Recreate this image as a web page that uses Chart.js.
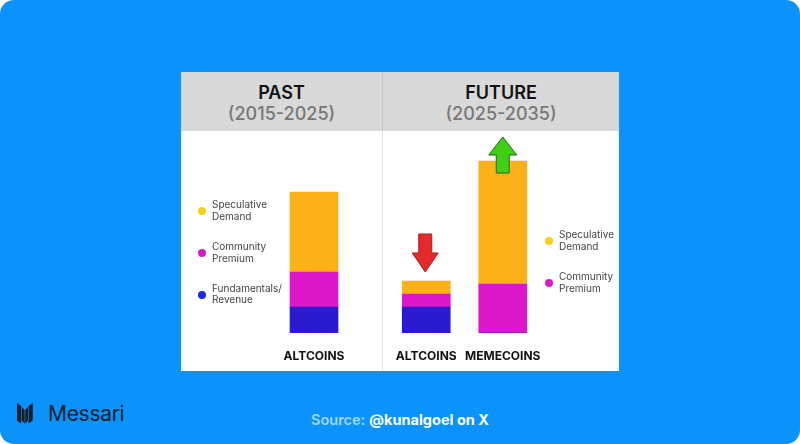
<!DOCTYPE html>
<html>
<head>
<meta charset="utf-8">
<script src="https://cdn.jsdelivr.net/npm/chart.js@4.4.1/dist/chart.umd.min.js"></script>
<style>
  body { margin: 0; background: #fff; font-family: Inter, "Noto Sans", sans-serif; }
  #frame { position: relative; width: 800px; height: 444px; background: #0b93fb; border-radius: 14px; overflow: hidden; }
  #panel { position: absolute; left: 181px; top: 72px; width: 438px; height: 299px; background: #fff; }
  .head { position: absolute; top: 0; height: 59px; background: #d9d9d9; text-align: center;
          padding-top: 10px; box-sizing: border-box; font-size: 18px; line-height: 21px; }
  .head b { color: #111; font-weight: 600; display: block; }
  .head span { color: #777; font-weight: 500; display: block; }
  #divider { position: absolute; left: 201px; top: 0; width: 1px; height: 299px; background: #e2e2e2; }
  #divider2 { position: absolute; left: 201px; top: 0; width: 1px; height: 59px; background: #c8c8c8; }
  .chartbox { position: absolute; top: 131px; }
  .leg { position: absolute; font-size: 10px; line-height: 11.5px; color: #444; }
  .dot { position: absolute; width: 8px; height: 8px; border-radius: 50%; }
  #logo { position: absolute; left: 17px; top: 403px; }
  #brand { position: absolute; left: 48px; top: 401px; font-size: 21px; color: #14202c; letter-spacing: -0.3px; }
  #source { position: absolute; left: 0; width: 800px; top: 411px; text-align: center; font-size: 14.5px; line-height: 18px; }
  #source .a { color: #a6d6ff; font-weight: 600; }
  #source .b { color: #fff; font-weight: 700; }
</style>
</head>
<body>
<div id="frame">
  <div id="panel">
    <div class="head" style="left:0;width:201px"><b>PAST</b><span>(2015-2025)</span></div>
    <div class="head" style="left:202px;width:236px"><b>FUTURE</b><span>(2025-2035)</span></div>
    <div id="divider"></div>
    <div id="divider2"></div>
  </div>
  <div class="chartbox" style="left:214px"><canvas id="pastChart" width="200" height="240"></canvas></div>
  <div class="chartbox" style="left:370px"><canvas id="futureChart" width="205" height="240"></canvas></div>
  <div id="legends"></div>
  <svg id="logo" width="16" height="21" viewBox="0 0 16 21">
    <polygon points="0,0 4.2,3 4.2,20.5 0,17.5" fill="#14202c"/>
    <polygon points="4.8,4 7.6,7 7.6,20.5 4.8,17.5" fill="#14202c"/>
    <polygon points="8.2,7 11,4 11,17.5 8.2,20.5" fill="#14202c"/>
    <polygon points="11.6,3 15.8,0 15.8,17.5 11.6,20.5" fill="#14202c"/>
  </svg>
  <div id="brand">Messari</div>
  <div id="source"><span class="a">Source:</span> <span class="b">@kunalgoel on X</span></div>
</div>

<script>
// values, in relative height units (no axis shown)
const pastCategories = ["ALTCOINS"];
const futureCategories = ["ALTCOINS", "MEMECOINS"];

const pastFundamentals = [26];
const pastCommunity = [35];
const pastSpeculative = [80];

const futureFundamentals = [26, 0];
const futureCommunity = [13, 49];
const futureSpeculative = [13, 123];

// arrow shown above each future bar
const futureArrows = ["down", "up"];

const yMax = 202;

const barColors = { fund: "#2a1bd0", comm: "#dc16c9", spec: "#fcb116" };
const dotColors = { fund: "#1d2ad8", comm: "#d91bc8", spec: "#f6d116" };

const pastLegend = [
  { key: "spec", lines: ["Speculative", "Demand"], top: 199 },
  { key: "comm", lines: ["Community", "Premium"], top: 241 },
  { key: "fund", lines: ["Fundamentals/", "Revenue"], top: 282.5 },
];
const futureLegend = [
  { key: "spec", lines: ["Speculative", "Demand"], top: 229 },
  { key: "comm", lines: ["Community", "Premium"], top: 271 },
];

function addLegend(items, left) {
  const box = document.getElementById("legends");
  items.forEach((it) => {
    const t = document.createElement("div");
    t.className = "leg";
    t.style.left = left + "px";
    t.style.top = it.top + "px";
    t.innerHTML = it.lines.join("<br>");
    box.appendChild(t);
    const d = document.createElement("div");
    d.className = "dot";
    d.style.background = dotColors[it.key];
    d.style.left = left - 14 + "px";
    d.style.top = it.top + 8 + "px";
    box.appendChild(d);
  });
}
addLegend(pastLegend, 212);
addLegend(futureLegend, 559);

function drawArrow(ctx, cx, tipY, dir, len, headLen, headW, shaftW, fill, stroke) {
  const s = dir === "up" ? 1 : -1; // up: tail is below tip
  const baseY = tipY + s * headLen;
  const tailY = tipY + s * len;
  ctx.save();
  ctx.beginPath();
  ctx.moveTo(cx, tipY);
  ctx.lineTo(cx + headW / 2, baseY);
  ctx.lineTo(cx + shaftW / 2, baseY);
  ctx.lineTo(cx + shaftW / 2, tailY);
  ctx.lineTo(cx - shaftW / 2, tailY);
  ctx.lineTo(cx - shaftW / 2, baseY);
  ctx.lineTo(cx - headW / 2, baseY);
  ctx.closePath();
  ctx.fillStyle = fill;
  ctx.fill();
  ctx.lineWidth = 1;
  ctx.strokeStyle = stroke;
  ctx.stroke();
  ctx.restore();
}

const arrowPlugin = {
  id: "arrows",
  afterDatasetsDraw(chart) {
    const meta = chart.getDatasetMeta(2);
    const ctx = chart.ctx;
    futureArrows.forEach((dir, i) => {
      const bar = meta.data[i];
      if (!bar) return;
      if (dir === "down") {
        drawArrow(ctx, bar.x - 1, bar.y - 9, "down", 38, 19, 26, 13, "#e42a2a", "#a81d1d");
      } else {
        drawArrow(ctx, bar.x, bar.y - 24, "up", 36, 18, 28, 13, "#41cf16", "#1d6a10");
      }
    });
  },
};

// padding keeps the plot area where the bars sit in the picture
function makeChart(id, labels, fund, comm, spec, padLeft, padRight, plugins) {
  const ctx = document.getElementById(id).getContext("2d");
  return new Chart(ctx, {
    type: "bar",
    data: {
      labels: labels,
      datasets: [
        { label: "Fundamentals/Revenue", data: fund, backgroundColor: barColors.fund },
        { label: "Community Premium", data: comm, backgroundColor: barColors.comm },
        { label: "Speculative Demand", data: spec, backgroundColor: barColors.spec },
      ].map((d) => ({ ...d, barThickness: 48, borderWidth: 0 })),
    },
    options: {
      responsive: false,
      animation: false,
      layout: { padding: { left: padLeft, right: padRight, top: 0, bottom: 0 } },
      plugins: { legend: { display: false }, tooltip: { enabled: false } },
      scales: {
        x: {
          stacked: true,
          grid: { display: false, drawTicks: false },
          border: { display: false },
          ticks: {
            color: "#111",
            font: { family: "Inter", size: 12, weight: "bold" },
            padding: 16,
            maxRotation: 0,
            autoSkip: false,
          },
          afterFit: (s) => { s.height = 38; },
        },
        y: { stacked: true, display: false, min: 0, max: yMax },
      },
    },
    plugins: plugins,
  });
}

makeChart("pastChart", pastCategories, pastFundamentals, pastCommunity, pastSpeculative, 50, 50, []);
makeChart("futureChart", futureCategories, futureFundamentals, futureCommunity, futureSpeculative, 18, 34, [arrowPlugin]);
</script>
</body>
</html>
